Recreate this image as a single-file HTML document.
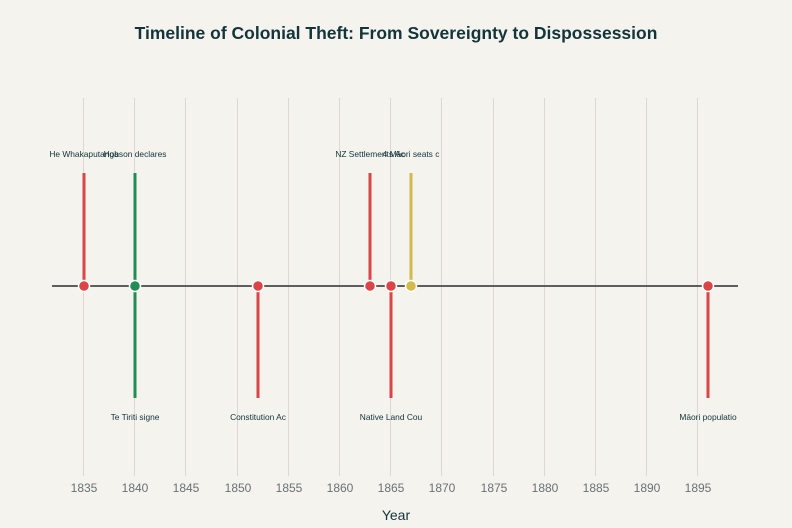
<!DOCTYPE html>
<html><head><meta charset="utf-8"><style>
body{margin:0;background:#f4f3ee;}
svg{display:block;font-family:"Liberation Sans",sans-serif;}
</style></head><body>
<svg width="792" height="528" viewBox="0 0 792 528">
<rect width="792" height="528" fill="#f4f3ee"/>
<text x="396" y="39" text-anchor="middle" font-size="17.5" font-weight="bold" fill="#13343b">Timeline of Colonial Theft: From Sovereignty to Dispossession</text>
<g stroke="#dcd9d2" stroke-width="1">
<line x1="83.5" y1="98" x2="83.5" y2="476"/><line x1="134.5" y1="98" x2="134.5" y2="476"/>
<line x1="185.5" y1="98" x2="185.5" y2="476"/><line x1="237.5" y1="98" x2="237.5" y2="476"/>
<line x1="288.5" y1="98" x2="288.5" y2="476"/><line x1="339.5" y1="98" x2="339.5" y2="476"/>
<line x1="390.5" y1="98" x2="390.5" y2="476"/><line x1="441.5" y1="98" x2="441.5" y2="476"/>
<line x1="493.5" y1="98" x2="493.5" y2="476"/><line x1="544.5" y1="98" x2="544.5" y2="476"/>
<line x1="595.5" y1="98" x2="595.5" y2="476"/><line x1="646.5" y1="98" x2="646.5" y2="476"/>
<line x1="697.5" y1="98" x2="697.5" y2="476"/>
</g>
<g font-size="12" fill="#6b7075" text-anchor="middle">
<text x="84" y="492">1835</text><text x="135" y="492">1840</text><text x="186" y="492">1845</text>
<text x="238" y="492">1850</text><text x="289" y="492">1855</text><text x="340" y="492">1860</text>
<text x="391" y="492">1865</text><text x="442" y="492">1870</text><text x="494" y="492">1875</text>
<text x="545" y="492">1880</text><text x="596" y="492">1885</text><text x="647" y="492">1890</text>
<text x="698" y="492">1895</text>
</g>
<text x="396" y="520" text-anchor="middle" font-size="14" fill="#13343b">Year</text>
<g stroke-width="3">
<line x1="84" y1="173" x2="84" y2="284" stroke="#db4545"/>
<line x1="135" y1="173" x2="135" y2="398" stroke="#218c53"/>
<line x1="258" y1="288" x2="258" y2="398" stroke="#db4545"/>
<line x1="370" y1="173" x2="370" y2="284" stroke="#db4545"/>
<line x1="391" y1="288" x2="391" y2="398" stroke="#db4545"/>
<line x1="411" y1="173" x2="411" y2="284" stroke="#d2ba4c"/>
<line x1="708" y1="288" x2="708" y2="398" stroke="#db4545"/>
</g>
<line x1="52" y1="286" x2="738" y2="286" stroke="#5e5e5e" stroke-width="2"/>
<g stroke="#fff" stroke-width="1.5">
<circle cx="84" cy="286" r="5.5" fill="#db4545"/>
<circle cx="135" cy="286" r="5.5" fill="#218c53"/>
<circle cx="258" cy="286" r="5.5" fill="#db4545"/>
<circle cx="370" cy="286" r="5.5" fill="#db4545"/>
<circle cx="391" cy="286" r="5.5" fill="#db4545"/>
<circle cx="411" cy="286" r="5.5" fill="#d2ba4c"/>
<circle cx="708" cy="286" r="5.5" fill="#db4545"/>
</g>
<g font-size="8.4" fill="#13343b" text-anchor="middle">
<text x="84" y="157">He Whakaputanga</text>
<text x="135" y="157">Hobson declares</text>
<text x="370" y="157">NZ Settlements Ac</text>
<text x="411" y="157">4 Māori seats c</text>
<text x="135" y="420">Te Tiriti signe</text>
<text x="258" y="420">Constitution Ac</text>
<text x="391" y="420">Native Land Cou</text>
<text x="708" y="420">Māori populatio</text>
</g>
</svg>
</body></html>
